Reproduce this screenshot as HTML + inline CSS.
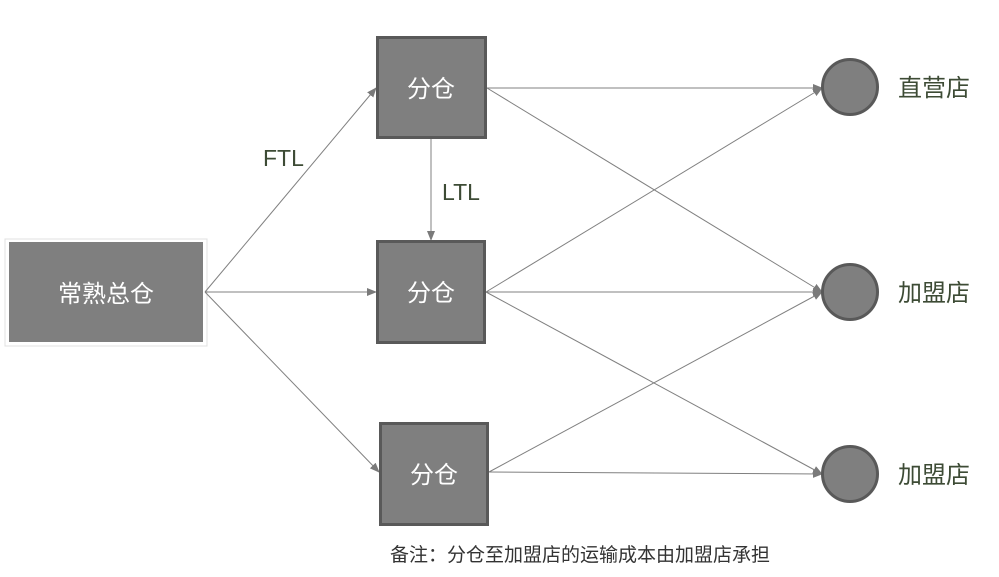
<!DOCTYPE html>
<html><head><meta charset="utf-8"><style>
body{margin:0;background:#fff;width:999px;height:572px;overflow:hidden;font-family:"Liberation Sans","Noto Sans CJK SC",sans-serif;}
</style></head><body>
<svg width="999" height="572" xmlns="http://www.w3.org/2000/svg" style="font-family:'Liberation Sans','Noto Sans CJK SC',sans-serif">
<defs><marker id="a" markerWidth="10" markerHeight="8" refX="9" refY="4" orient="auto" markerUnits="userSpaceOnUse"><path d="M0,0 L10,4 L0,8 z" fill="#7a7a7a"/></marker></defs>
<rect x="5" y="239" width="202" height="107" fill="#fff" stroke="#e0e0e0" stroke-width="1"/>
<rect x="9" y="242" width="194" height="100" fill="#7f7f7f"/>
<text x="106" y="302" font-size="24" fill="#fff" text-anchor="middle">常熟总仓</text>
<g stroke="#808080" stroke-width="1" fill="none" marker-end="url(#a)">
<line x1="205" y1="292" x2="376" y2="88"/>
<line x1="205" y1="292" x2="376" y2="292"/>
<line x1="205" y1="292" x2="379" y2="472"/>
<line x1="431" y1="139" x2="431" y2="240"/>
<line x1="487" y1="88" x2="822" y2="88"/>
<line x1="487" y1="88" x2="822" y2="292"/>
<line x1="486" y1="292" x2="822" y2="88"/>
<line x1="486" y1="292" x2="822" y2="292"/>
<line x1="486" y1="292" x2="822" y2="474"/>
<line x1="489" y1="472" x2="822" y2="292"/>
<line x1="489" y1="472" x2="822" y2="474"/>
</g>
<g fill="#7f7f7f" stroke="#595959" stroke-width="3">
<rect x="377.5" y="37.5" width="108" height="100"/>
<rect x="377.5" y="241.5" width="107" height="101"/>
<rect x="380.5" y="423.5" width="107" height="101"/>
<circle cx="850" cy="87" r="27.5"/>
<circle cx="850" cy="292" r="27.5"/>
<circle cx="850" cy="474" r="27.5"/>
</g>
<g font-size="24" fill="#fff" text-anchor="middle">
<text x="431" y="97">分仓</text>
<text x="431" y="301">分仓</text>
<text x="434" y="483">分仓</text>
</g>
<g font-size="23" fill="#3d4b35">
<text x="263" y="166">FTL</text>
<text x="442" y="200">LTL</text>
</g>
<g font-size="24" fill="#3d4b35">
<text x="898" y="96">直营店</text>
<text x="898" y="301">加盟店</text>
<text x="898" y="483">加盟店</text>
</g>
<text x="390" y="561" font-size="19" fill="#333">备注：分仓至加盟店的运输成本由加盟店承担</text>
</svg>
</body></html>
